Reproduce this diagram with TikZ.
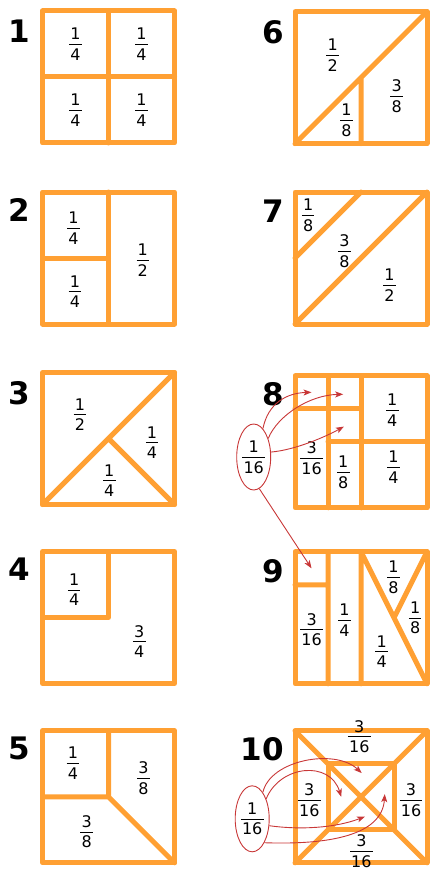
\documentclass[tikz,border=0pt]{standalone}
\usepackage{fontspec}
\setmainfont{DejaVu Sans}
\usetikzlibrary{arrows.meta,shapes.geometric}
\definecolor{sqorange}{RGB}{255,160,51}
\definecolor{arrred}{RGB}{200,55,55}
\newcommand{\fr}[2]{{\renewcommand{\arraystretch}{0}\setlength{\arrayrulewidth}{0.9pt}\begin{tabular}{@{\hspace{1.2pt}}c@{\hspace{1.2pt}}}\raisebox{0pt}[11.7pt][4.2pt]{#1}\\\hline\raisebox{0pt}[15.5pt][0pt]{#2}\end{tabular}}}
\begin{document}
\begin{tikzpicture}[x=1pt,y=-1pt,
  sq/.style={draw=sqorange,line width=5pt,line cap=round,line join=round},
  lab/.style={font=\fontsize{16}{19}\selectfont,inner sep=0pt},
  num/.style={font=\fontsize{31}{31}\selectfont\bfseries,inner sep=0pt,anchor=east},
  ell/.style={ellipse,draw=arrred,line width=0.9pt,minimum width=34pt,minimum height=66pt,inner sep=0pt,font=\fontsize{16}{19}\selectfont},
  arr/.style={draw=arrred,line width=0.9pt,-{Stealth[length=8pt,width=6pt,inset=2pt]}},
  unitsq/.style={x=132pt,y=-132pt}]
\useasboundingbox (0,0) rectangle (429,869);

% ---------- 1 ----------
\begin{scope}[xshift=42.5pt,yshift=-11pt,unitsq]
\draw[sq] (0,0) rectangle (1,1);
\draw[sq] (0.5,0) -- (0.5,1) (0,0.5) -- (1,0.5);
\node[lab] (l1a) at (0.25,0.25) {\fr{1}{4}};
\node[lab] (l1b) at (0.75,0.25) {\fr{1}{4}};
\node[lab] (l1c) at (0.25,0.75) {\fr{1}{4}};
\node[lab] (l1d) at (0.75,0.75) {\fr{1}{4}};
\end{scope}
\node[num] (n1) at (30,31.5) {1};

% ---------- 2 ----------
\begin{scope}[xshift=42.5pt,yshift=-192pt,unitsq]
\draw[sq] (0,0) rectangle (1,1);
\draw[sq] (0.5,0) -- (0.5,1) (0,0.5) -- (0.5,0.5);
\node[lab] (l2a) at (0.235,0.275) {\fr{1}{4}};
\node[lab] (l2b) at (0.245,0.755) {\fr{1}{4}};
\node[lab] (l2c) at (0.76,0.515) {\fr{1}{2}};
\end{scope}
\node[num] (n2) at (30,210) {2};

% ---------- 3 ----------
\begin{scope}[xshift=42.5pt,yshift=-372.5pt,unitsq]
\draw[sq] (0,0) rectangle (1,1);
\draw[sq] (0,1) -- (1,0) (0.5,0.5) -- (1,1);
\node[lab] (l3a) at (0.284,0.32) {\fr{1}{2}};
\node[lab] (l3b) at (0.83,0.53) {\fr{1}{4}};
\node[lab] (l3c) at (0.506,0.82) {\fr{1}{4}};
\end{scope}
\node[num] (n3) at (30,393.5) {3};

% ---------- 4 ----------
\begin{scope}[xshift=42.5pt,yshift=-551.5pt,unitsq]
\draw[sq] (0,0) rectangle (1,1);
\draw[sq] (0.5,0) -- (0.5,0.5) -- (0,0.5);
\node[lab] (l4a) at (0.24,0.29) {\fr{1}{4}};
\node[lab] (l4b) at (0.733,0.683) {\fr{3}{4}};
\end{scope}
\node[num] (n4) at (30,569) {4};

% ---------- 5 ----------
\begin{scope}[xshift=42.5pt,yshift=-730.8pt,unitsq]
\draw[sq] (0,0) rectangle (1,1);
\draw[sq] (0.5,0) -- (0.5,0.5) -- (0,0.5) (0.5,0.5) -- (1,1);
\node[lab] (l5a) at (0.23,0.245) {\fr{1}{4}};
\node[lab] (l5b) at (0.764,0.36) {\fr{3}{8}};
\node[lab] (l5c) at (0.335,0.765) {\fr{3}{8}};
\end{scope}
\node[num] (n5) at (30,748.5) {5};

% ---------- 6 ----------
\begin{scope}[xshift=295pt,yshift=-11.7pt,unitsq]
\draw[sq] (0,0) rectangle (1,1);
\draw[sq] (0,1) -- (1,0) (0.5,0.5) -- (0.5,1);
\node[lab] (l6a) at (0.285,0.33) {\fr{1}{2}};
\node[lab] (l6b) at (0.39,0.82) {\fr{1}{8}};
\node[lab] (l6c) at (0.77,0.64) {\fr{3}{8}};
\end{scope}
\node[num] (n6) at (284,32) {6};

% ---------- 7 ----------
\begin{scope}[xshift=295pt,yshift=-192pt,unitsq]
\draw[sq] (0,0) rectangle (1,1);
\draw[sq] (0,1) -- (1,0) (0,0.5) -- (0.5,0);
\node[lab] (l7a) at (0.10,0.175) {\fr{1}{8}};
\node[lab] (l7b) at (0.374,0.45) {\fr{3}{8}};
\node[lab] (l7c) at (0.715,0.705) {\fr{1}{2}};
\end{scope}
\node[num] (n7) at (284,210.8) {7};

% ---------- 8 ----------
\begin{scope}[xshift=295pt,yshift=-375.8pt,unitsq]
\draw[sq] (0,0) rectangle (1,1);
\draw[sq] (0.25,0) -- (0.25,1) (0.5,0) -- (0.5,1) (0,0.25) -- (0.5,0.25) (0.25,0.5) -- (1,0.5);
\node[lab] (l8a) at (0.126,0.625) {\fr{3}{16}};
\node[lab] (l8b) at (0.366,0.73) {\fr{1}{8}};
\node[lab] (l8c) at (0.737,0.26) {\fr{1}{4}};
\node[lab] (l8d) at (0.745,0.69) {\fr{1}{4}};
\coordinate (t8a) at (0.125,0.125);
\coordinate (t8b) at (0.365,0.14);
\coordinate (t8c) at (0.37,0.385);
\end{scope}
\node[num] (n8) at (284,394) {8};

% ---------- 9 ----------
\begin{scope}[xshift=295pt,yshift=-551.8pt,unitsq]
\draw[sq] (0,0) rectangle (1,1);
\draw[sq] (0.25,0) -- (0.25,1) (0.5,0) -- (0.5,1) (0,0.25) -- (0.25,0.25) (0.5,0) -- (1,1) (1,0) -- (0.75,0.5);
\node[lab] (l9a) at (0.745,0.19) {\fr{1}{8}};
\node[lab] (l9b) at (0.91,0.50) {\fr{1}{8}};
\node[lab] (l9c) at (0.657,0.757) {\fr{1}{4}};
\node[lab] (l9d) at (0.374,0.517) {\fr{1}{4}};
\node[lab] (l9e) at (0.126,0.59) {\fr{3}{16}};
\coordinate (t9) at (0.125,0.125);
\end{scope}
\node[num] (n9) at (284,571.5) {9};

% ---------- 10 ----------
\begin{scope}[xshift=295pt,yshift=-730.8pt,unitsq]
\draw[sq] (0,0) rectangle (1,1);
\draw[sq] (0.25,0.25) rectangle (0.75,0.75);
\draw[sq] (0,0) -- (1,1) (0,1) -- (1,0);
\node[lab] (l10a) at (0.487,0.045) {\fr{3}{16}};
\node[lab] (l10b) at (0.503,0.91) {\fr{3}{16}};
\node[lab] (l10c) at (0.108,0.524) {\fr{3}{16}};
\node[lab] (l10d) at (0.879,0.524) {\fr{3}{16}};
\coordinate (t10a) at (0.505,0.32);
\coordinate (t10b) at (0.35,0.5);
\coordinate (t10c) at (0.53,0.65);
\coordinate (t10d) at (0.68,0.48);
\end{scope}
\node[num] (n10) at (284,749) {10};

% ---------- ellipses and arrows ----------
\node[ell] (e8) at (253.7,457) {\fr{1}{16}};
\draw[arr] (e8.72) .. controls (268,403) and (287,393) .. (t8a);
\draw[arr] (e8.52) .. controls (278,415) and (310,395) .. (t8b);
\draw[arr] (e8.16) .. controls (295,450) and (325,437) .. (t8c);
\draw[arr] (e8.-80) -- (t9);

\node[ell] (e10) at (252.2,818.8) {\fr{1}{16}};
\draw[arr] (e10.68) .. controls (270,760) and (335,748) .. (t10a);
\draw[arr] (e10.55) .. controls (280,765) and (330,760) .. (t10b);
\draw[arr] (e10.-22) .. controls (300,830) and (335,828) .. (t10c);
\draw[arr] (e10.-63) .. controls (330,845) and (382,835) .. (t10d);
\end{tikzpicture}
\end{document}
